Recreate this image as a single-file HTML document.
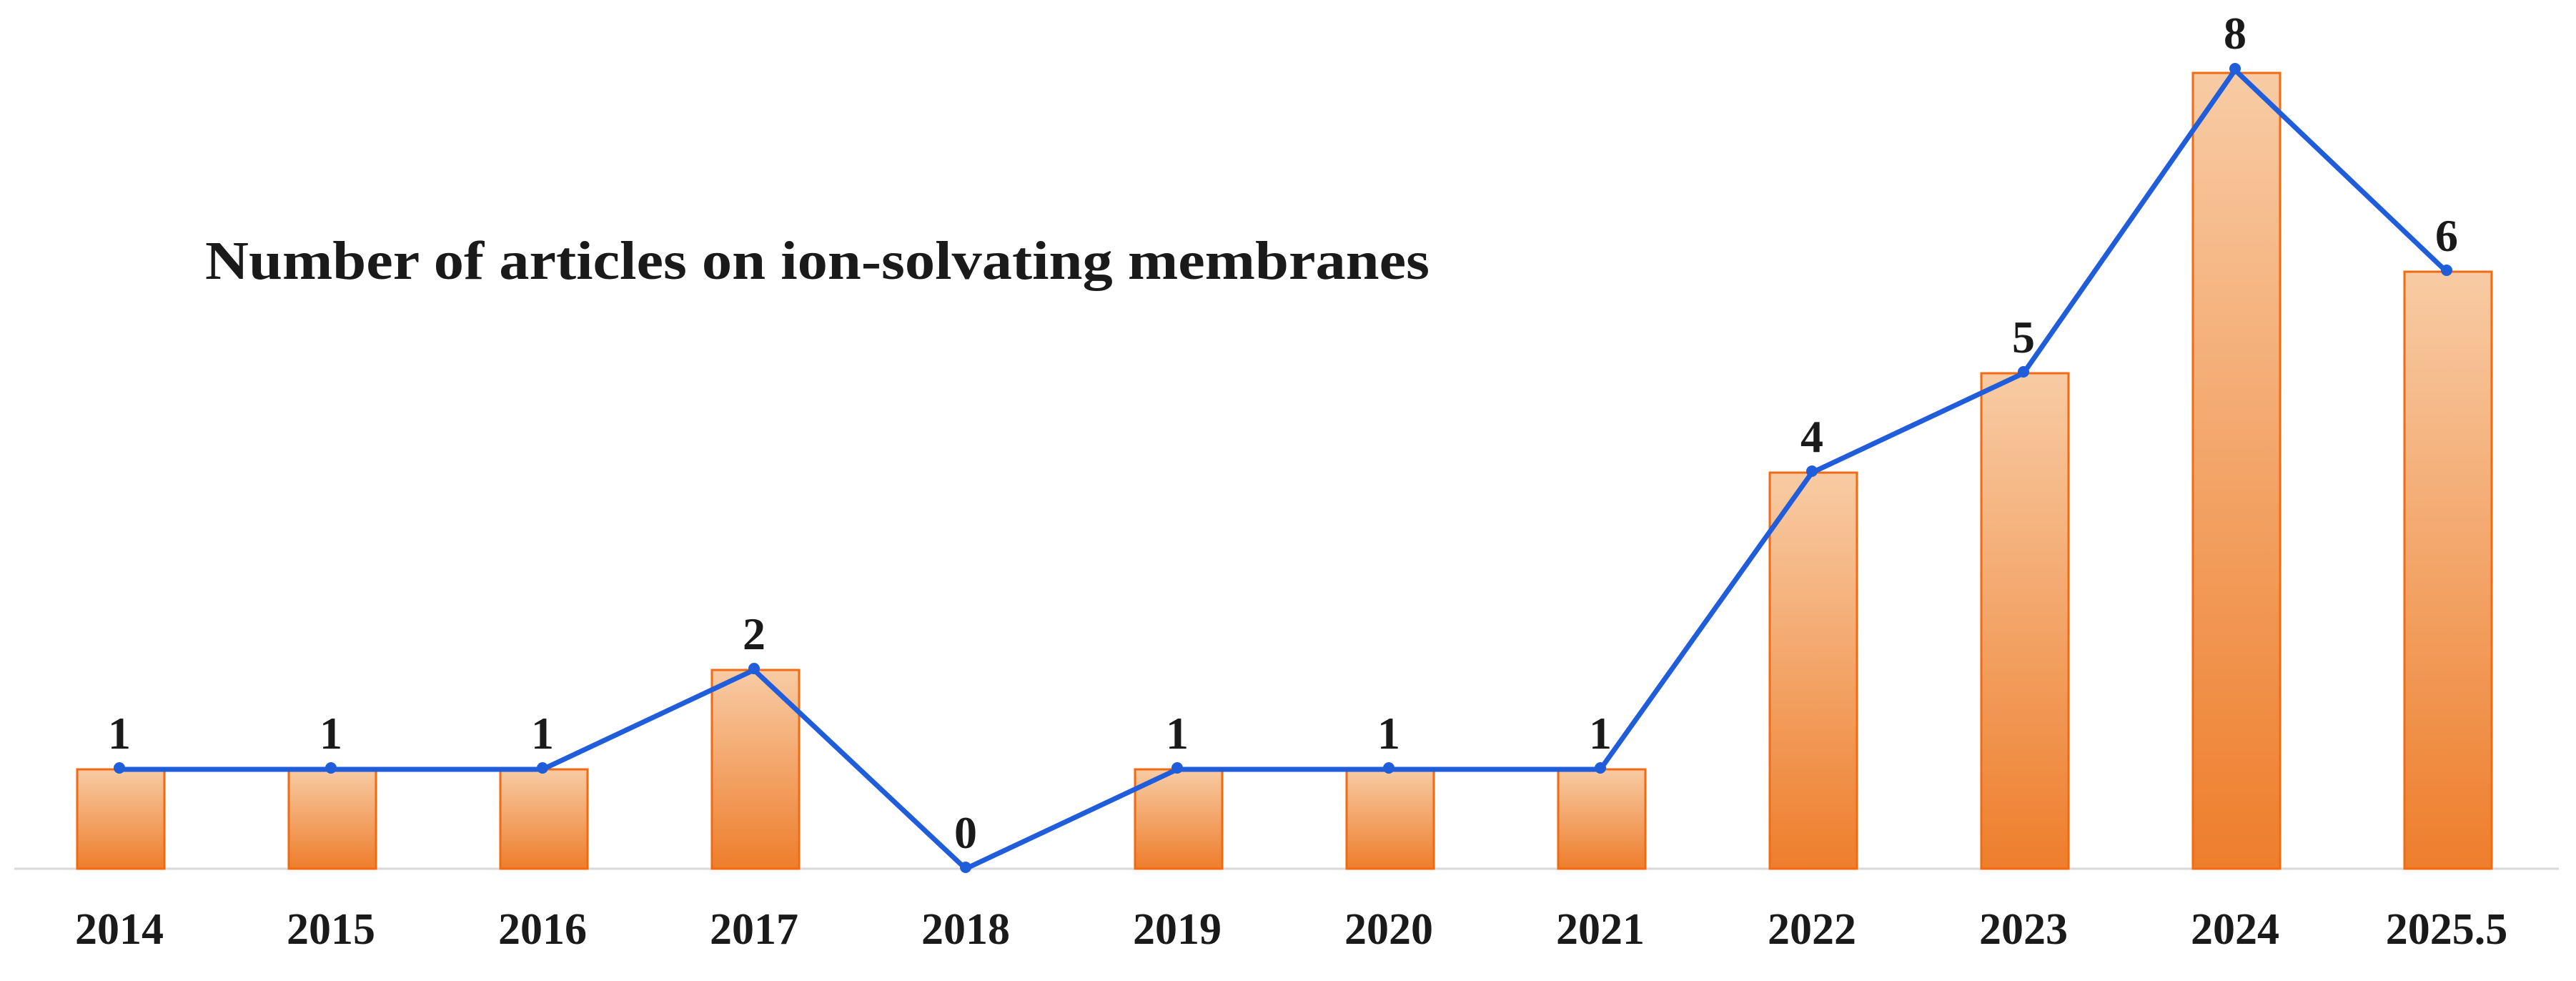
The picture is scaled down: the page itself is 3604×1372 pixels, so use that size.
<!DOCTYPE html>
<html><head><meta charset="utf-8"><style>
html,body{margin:0;padding:0;background:#fff;}
svg{display:block;}
text{font-family:"Liberation Serif",serif;font-weight:bold;fill:#1a1a1a;}
</style></head><body>
<svg width="3604" height="1372" viewBox="0 0 3604 1372" xmlns="http://www.w3.org/2000/svg">
<defs>
<linearGradient id="g" x1="0" y1="0" x2="0" y2="1">
<stop offset="0" stop-color="#f8cba4"/>
<stop offset="1" stop-color="#ee7e2c"/>
</linearGradient>
</defs>
<line x1="20" y1="1215" x2="3580" y2="1215" stroke="#d9d9d9" stroke-width="3"/>
<g stroke="#f26a12" stroke-width="3" fill="url(#g)">
<rect x="108" y="1076" width="122" height="139"/>
<rect x="404" y="1076" width="122" height="139"/>
<rect x="700" y="1076" width="122" height="139"/>
<rect x="996" y="937" width="122" height="278"/>
<rect x="1588" y="1076" width="122" height="139"/>
<rect x="1884" y="1076" width="122" height="139"/>
<rect x="2180" y="1076" width="122" height="139"/>
<rect x="2476" y="661" width="122" height="554"/>
<rect x="2772" y="522" width="122" height="693"/>
<rect x="3068" y="102" width="122" height="1113"/>
<rect x="3364" y="380" width="122" height="835"/>
</g>
<polyline fill="none" stroke="#1f5ddb" stroke-width="7" stroke-linejoin="round" points="167,1076 463,1076 759,1076 1055,937 1351,1215 1647,1076 1943,1076 2239,1076 2535,661 2831,522 3127,98 3423,380"/>
<g fill="#1f5ddb">
<circle cx="167" cy="1074" r="8"/><circle cx="463" cy="1074" r="8"/><circle cx="759" cy="1074" r="8"/><circle cx="1055" cy="935" r="8"/><circle cx="1351" cy="1213" r="8"/><circle cx="1647" cy="1074" r="8"/><circle cx="1943" cy="1074" r="8"/><circle cx="2239" cy="1074" r="8"/><circle cx="2535" cy="659" r="8"/><circle cx="2831" cy="520" r="8"/><circle cx="3127" cy="96" r="8"/><circle cx="3423" cy="378" r="8"/>
</g>
<g font-size="64" text-anchor="middle">
<text x="167" y="1047">1</text><text x="463" y="1047">1</text><text x="759" y="1047">1</text><text x="1055" y="908">2</text><text x="1351" y="1186">0</text><text x="1647" y="1047">1</text><text x="1943" y="1047">1</text><text x="2239" y="1047">1</text><text x="2535" y="632">4</text><text x="2831" y="493">5</text><text x="3127" y="68">8</text><text x="3423" y="351">6</text>
</g>
<g font-size="62" text-anchor="middle">
<text x="167" y="1320">2014</text><text x="463" y="1320">2015</text><text x="759" y="1320">2016</text><text x="1055" y="1320">2017</text><text x="1351" y="1320">2018</text><text x="1647" y="1320">2019</text><text x="1943" y="1320">2020</text><text x="2239" y="1320">2021</text><text x="2535" y="1320">2022</text><text x="2831" y="1320">2023</text><text x="3127" y="1320">2024</text><text x="3423" y="1320">2025.5</text>
</g>
<text x="287" y="390" font-size="76" textLength="1713" lengthAdjust="spacingAndGlyphs">Number of articles on ion-solvating membranes</text>
</svg>
</body></html>
